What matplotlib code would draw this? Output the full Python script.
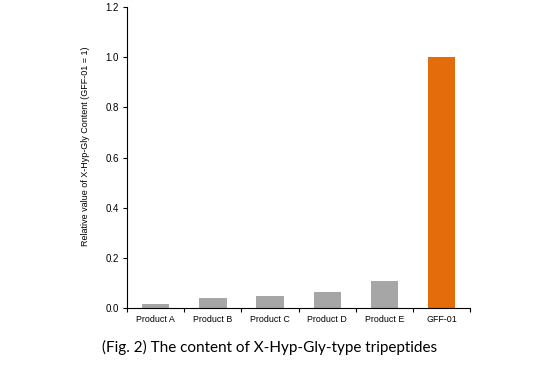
import matplotlib
matplotlib.use('Agg')
import matplotlib.pyplot as plt

products = ['Product A', 'Product B', 'Product C', 'Product D', 'Product E', 'GFF-01']
values = [0.016, 0.041, 0.047, 0.066, 0.110, 1.0]
bar_colors = ['#A6A6A6'] * 5 + ['#E46C0A']

plt.rcParams['font.family'] = ['Liberation Sans', 'DejaVu Sans']

fig = plt.figure(figsize=(5.5, 3.74), dpi=100)
ax = fig.add_axes([0.231, 0.176, 0.624, 0.805])

x = range(len(products))
ax.bar(x, values, width=0.48, color=bar_colors)

ax.set_xlim(-0.5, len(products) - 0.5)
ax.set_ylim(0, 1.2)
ax.set_yticks([0, 0.2, 0.4, 0.6, 0.8, 1.0, 1.2])
ax.set_yticklabels(['0.0', '0.2', '0.4', '0.6', '0.8', '1.0', '1.2'])
# boundary ticks between categories, labels centred on bars
ax.set_xticks([i + 0.5 for i in range(-1, len(products))], minor=False)
ax.set_xticklabels([])
ax.set_xticks(list(x), minor=True)
ax.set_xticklabels(products, minor=True)
ax.tick_params(axis='x', which='minor', length=0, pad=5, labelsize=6.4)
ax.tick_params(axis='x', which='major', length=3, width=0.8)
ax.tick_params(axis='y', length=3, width=0.8, labelsize=7, pad=3)

for side in ['top', 'right']:
    ax.spines[side].set_visible(False)
for side in ['left', 'bottom']:
    ax.spines[side].set_linewidth(0.8)

ax.set_ylabel('Relative value of X-Hyp-Gly Content (GFF-01 = 1)', fontsize=6.5)
ax.yaxis.set_label_coords(-0.108, 0.539)

fig.text(0.491, 0.070, '(Fig. 2) The content of X-Hyp-Gly-type tripeptides',
         ha='center', va='center', fontsize=11, family=['Lato', 'DejaVu Sans'])

fig.savefig('out.png', dpi=100)
